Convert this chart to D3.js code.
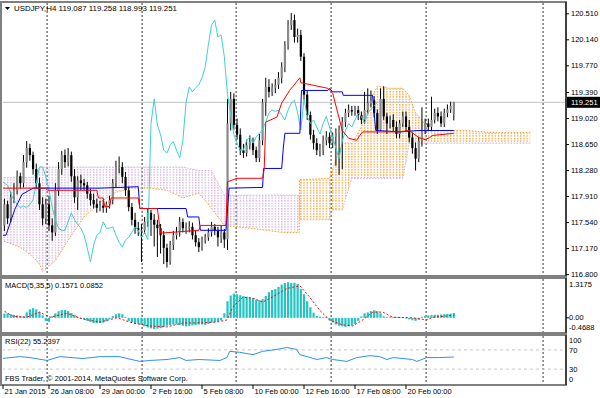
<!DOCTYPE html>
<html>
<head>
<meta charset="utf-8">
<script src="https://d3js.org/d3.v7.min.js"></script>
<style>
  body { margin: 0; background: #fff; }
  svg text { font-family: "Liberation Sans", Arial, sans-serif; font-size: 7.5px; fill: #000; }
</style>
</head>
<body>
<svg id="chart" width="600" height="398"></svg>
<script>
// ---- data (one entry per H4 bar) ----
const opens = [
  117.40,117.50,117.80,117.60,117.90,118.00,118.20,118.10,118.40,118.60,
  118.50,118.30,118.10,117.80,117.60,117.80,117.50,117.40,118.00,118.30,
  118.50,118.40,118.50,118.20,117.90,118.14,118.10,118.07,117.95,117.86,
  117.80,117.75,117.78,117.75,117.80,117.86,118.10,118.33,118.33,118.19,
  118.00,117.76,117.58,117.46,117.43,117.43,117.55,117.68,117.58,117.51,
  117.46,117.36,117.18,116.98,117.22,117.36,117.40,117.55,117.46,117.46,
  117.48,117.36,117.26,117.19,117.29,117.33,117.40,117.48,117.43,117.33,
  117.40,117.30,118.95,119.30,118.93,118.79,118.57,118.53,118.64,118.69,
  118.57,118.46,118.71,119.25,119.47,119.40,119.46,119.50,119.60,119.75,
  120.07,120.35,120.42,120.18,120.21,119.90,119.36,119.07,118.79,118.67,
  118.57,118.57,118.71,118.76,118.67,118.76,118.81,118.86,118.97,119.10,
  119.14,119.12,119.14,119.07,119.00,119.14,119.24,119.28,119.10,118.86,
  119.30,119.05,118.95,119.00,118.90,118.80,118.95,119.05,118.90,118.75,
  118.60,118.45,118.70,118.85,118.95,118.90,119.00,119.10,119.05,118.95,
  119.10,119.15,119.087];
const highs = [
  117.62,117.88,117.85,117.98,118.10,118.28,118.25,118.50,118.70,118.66,
  118.55,118.38,118.18,117.90,117.88,117.92,117.60,118.10,118.40,118.56,
  118.58,118.60,118.55,118.30,118.20,118.22,118.16,118.12,118.02,117.95,
  117.88,117.85,117.86,117.84,117.92,118.16,118.42,118.48,118.40,118.26,
  118.05,117.82,117.68,117.55,117.52,117.62,117.74,117.72,117.66,117.58,
  117.52,117.42,117.24,117.28,117.42,117.48,117.62,117.60,117.54,117.56,
  117.54,117.42,117.32,117.34,117.38,117.46,117.55,117.52,117.48,117.50,
  117.45,119.30,119.40,119.38,119.02,118.88,118.66,118.72,118.78,118.75,
  118.62,118.80,119.30,119.60,119.58,119.52,119.58,119.68,119.82,120.12,
  120.42,120.52,120.50,120.30,120.28,119.95,119.42,119.12,118.86,118.74,
  118.66,118.78,118.84,118.82,118.82,118.88,118.92,119.04,119.16,119.22,
  119.20,119.20,119.20,119.12,119.40,119.45,119.42,119.34,119.15,119.45,
  119.48,119.10,119.06,119.08,118.98,119.00,119.12,119.12,119.00,118.82,
  118.68,118.76,119.18,119.02,119.02,119.33,119.16,119.18,119.12,119.16,
  119.22,119.26,119.258];
const lows = [
  117.30,117.42,117.52,117.55,117.82,117.94,118.02,118.04,118.32,118.42,
  118.22,118.02,117.72,117.50,117.52,117.42,117.28,117.35,117.92,118.22,
  118.32,118.34,118.12,117.82,117.72,118.00,118.00,117.88,117.78,117.74,
  117.68,117.70,117.68,117.68,117.74,117.80,118.04,118.24,118.10,117.92,
  117.70,117.50,117.38,117.35,116.98,117.38,117.48,117.35,117.20,117.05,
  117.10,116.95,116.90,116.94,117.15,117.30,117.34,117.40,117.38,117.40,
  117.30,117.20,117.12,117.14,117.24,117.28,117.34,117.36,117.20,117.25,
  117.18,117.15,118.85,118.86,118.72,118.50,118.46,118.48,118.58,118.50,
  118.40,118.40,118.64,119.06,119.32,119.34,119.38,119.44,119.52,119.68,
  120.00,120.28,120.10,120.10,119.84,119.28,119.00,118.72,118.58,118.50,
  118.48,118.50,118.64,118.60,118.60,118.35,118.22,118.30,118.90,119.04,
  119.06,119.06,119.00,118.94,118.94,119.08,119.18,119.04,118.80,118.84,
  119.00,118.80,118.88,118.84,118.74,118.74,118.90,118.84,118.68,118.52,
  118.28,118.40,118.62,118.80,118.84,118.84,118.95,118.98,118.90,118.90,
  119.04,119.10,118.993];
const closes = [
  117.50,117.80,117.60,117.90,118.00,118.20,118.10,118.40,118.60,118.50,
  118.30,118.10,117.80,117.60,117.80,117.50,117.40,118.00,118.30,118.50,
  118.40,118.50,118.20,117.90,118.14,118.10,118.07,117.95,117.86,117.80,
  117.75,117.78,117.75,117.80,117.86,118.10,118.33,118.33,118.19,118.00,
  117.76,117.58,117.46,117.43,117.43,117.55,117.68,117.58,117.51,117.46,
  117.36,117.18,116.98,117.22,117.36,117.40,117.55,117.46,117.46,117.48,
  117.36,117.26,117.19,117.29,117.33,117.40,117.48,117.43,117.33,117.40,
  117.30,118.95,119.30,118.93,118.79,118.57,118.53,118.64,118.69,118.57,
  118.46,118.71,119.25,119.47,119.40,119.46,119.50,119.60,119.75,120.07,
  120.35,120.42,120.18,120.21,119.90,119.36,119.07,118.79,118.67,118.57,
  118.57,118.71,118.76,118.67,118.76,118.81,118.86,118.97,119.10,119.14,
  119.12,119.14,119.07,119.00,119.14,119.24,119.28,119.10,118.86,119.30,
  119.05,118.95,119.00,118.90,118.80,118.95,119.05,118.90,118.75,118.60,
  118.45,118.70,118.85,118.95,118.90,119.00,119.10,119.05,118.95,119.10,
  119.15,119.20,119.251];

// Ichimoku lines as [bar, value] vertices
const tenkan = [[0,118.03],[14,118.03],[14.5,118.0],[30,118.0],[30.5,117.89],[32,117.89],[32.5,117.77],[34,117.77],
  [34.5,117.89],[43,117.89],[43.5,117.74],[49,117.74],[50,117.39],[62,117.43],[62.5,117.50],[70.5,117.50],
  [71,118.12],[74,118.17],[82,118.17],[82.5,118.29],[83,118.97],[86.5,119.04],[88,119.24],[90.5,119.42],
  [93.7,119.60],[94,119.53],[102.5,119.45],[104,119.38],[107,118.85],[109,118.74],[111.5,118.71],[112.5,118.78],
  [113.4,118.83],[125,118.83],[128,118.85],[131,118.75],[133,118.72],[134.4,118.75],[135.4,118.78],[142,118.81]];
const kijun = [[0,117.36],[1.5,117.36],[4.3,117.73],[6.5,117.94],[10,118.03],[31,118.03],[43,118.05],[43.5,117.74],
  [58,117.74],[58.5,117.62],[62,117.62],[62.5,117.43],[70.5,117.43],[71.5,118.03],[82,118.04],[82.3,118.31],
  [88,118.31],[88.5,118.60],[89,118.81],[93.7,118.81],[94.2,119.42],[102.5,119.42],[103,119.45],[104,119.40],
  [107,119.40],[107.3,119.35],[116.5,119.35],[117.5,118.85],[125,118.83],[131,118.85],[142,118.85]];
const cloudBars = [0,6,10,12,13,17,21,26,31,36,41,47,52,57,62,66,70,80,88,93.5,
  93.6,103,104,107,110,113,116,118,122,126,128,130,132,134,145,155,166];
const spanA = [117.29,117.19,117.05,116.95,116.84,117.00,117.29,117.62,117.83,117.97,
  118.03,118.03,118.00,117.89,117.96,117.74,117.50,117.45,117.40,117.40,
  118.15,118.17,118.30,118.67,118.67,118.90,119.30,119.48,119.45,119.45,
  119.35,119.10,119.00,118.85,118.85,118.82,118.82];
const spanB = [118.18,118.18,118.18,118.33,118.33,118.33,118.33,118.33,118.33,118.33,
  118.33,118.33,118.33,118.33,118.28,118.28,117.93,117.93,117.93,117.93,
  117.58,117.58,117.72,117.72,118.17,118.17,118.17,118.17,118.17,118.17,
  118.67,118.67,118.67,118.67,118.67,118.67,118.67];
const chikouShift = 24;

// MACD(5,35,5)
const macdHist = [
  0.12,0.14,0.15,0.12,0.10,0.08,0.05,0.05,0.18,0.28,
  0.32,0.28,0.20,0.08,-0.10,-0.13,0.05,0.15,0.22,0.26,
  0.26,0.22,0.16,0.10,0.02,-0.03,-0.05,-0.10,-0.14,-0.18,
  -0.18,-0.17,-0.16,-0.12,-0.05,0.06,0.12,0.15,0.12,0.02,
  -0.10,-0.15,-0.18,-0.20,-0.24,-0.28,-0.32,-0.35,-0.37,-0.36,
  -0.34,-0.30,-0.26,-0.24,-0.22,-0.22,-0.24,-0.26,-0.28,-0.27,
  -0.25,-0.24,-0.22,-0.22,-0.23,-0.20,-0.16,-0.14,-0.12,-0.08,
  0.15,0.55,0.74,0.80,0.78,0.75,0.72,0.70,0.68,0.65,
  0.60,0.58,0.62,0.72,0.85,0.92,0.95,1.02,1.10,1.15,
  1.18,1.15,1.16,1.12,0.95,0.78,0.55,0.35,0.17,0.06,
  0.04,0.03,0.03,-0.08,-0.15,-0.22,-0.26,-0.28,-0.30,-0.28,
  -0.25,-0.20,-0.10,0.05,0.15,0.18,0.22,0.25,0.22,0.15,
  0.05,0.03,0.02,0.02,0.03,0.03,0.02,0.01,-0.05,-0.08,
  -0.10,-0.06,0.03,0.06,0.08,0.09,0.10,0.10,0.11,0.12,
  0.13,0.14,0.1571];
const macdSignal = [[0,0.28],[3.7,0.05],[8,0.02],[12,0.19],[15.3,0.02],[20.6,0.15],[25.6,-0.04],[31,-0.14],
  [36.3,0],[41.3,-0.17],[46.6,-0.27],[52,-0.30],[57,-0.17],[62.3,-0.17],[67.6,-0.14],[70.8,-0.07],
  [72.7,0.36],[75.8,0.68],[79,0.65],[82,0.52],[85,0.68],[89.6,0.97],[93.7,1.06],[96.8,0.68],
  [99.9,0.25],[103,-0.07],[107,-0.23],[110.3,-0.27],[113.4,-0.07],[116.6,0.19],[119.7,0.19],
  [122.8,0.02],[129,0],[133.5,-0.07],[135.4,0.02],[142,0.0852]];
const macdRange = [-0.4688, 1.3175];

// RSI(22)
const rsi = [[0,52],[6,56],[9,54],[14.4,48],[18.4,56],[25.6,52],[31,56],[37,56],[43.5,46],[46.6,48],
  [52,50],[56,54],[58,48],[62,50],[68.6,48],[70.8,54],[71.7,67],[74.8,65],[79,60],[82,67],[86.5,71],
  [89.6,75],[92.7,71],[93.7,60],[96,56],[99,50],[102,54],[104,50],[108.4,46],[111.5,54],[115.6,58],
  [118.7,56],[121,50],[123,54],[129,50],[130.4,46],[133.5,54],[137.6,54],[142,55.24]];
const rsiLevels = [70, 30];

// axis labels
const priceTicks = [120.510,120.140,119.770,119.390,119.020,118.650,118.280,117.910,117.540,117.170,116.800];
const lastPrice = 119.251;
const timeLabels = [[0,"21 Jan 2015"],[15,"26 Jan 08:00"],[31,"29 Jan 00:00"],[47,"2 Feb 16:00"],
  [63,"5 Feb 08:00"],[79,"10 Feb 00:00"],[95,"12 Feb 16:00"],[111,"17 Feb 08:00"],[127,"20 Feb 00:00"]];
const gridBars = [14.4, 44.2, 73.7, 103.5, 133.3, 170];

// ---- layout ----
const svg = d3.select("#chart");
const L = 2, R = 566;
const main = {top: 2, bottom: 276};
const macdP = {top: 278, bottom: 333};
const rsiP = {top: 335, bottom: 385};

const x = d3.scaleLinear().domain([0, 168]).range([1.2, 1.2 + 168 * 3.1875]);
const y = d3.scaleLinear().domain([116.8, 120.51]).range([274.6, 13.8]);
const yM = d3.scaleLinear().domain(macdRange).range([332, 278]);
const yR = d3.scaleLinear().domain([0, 100]).range([383.5, 335.5]);

const defs = svg.append("defs");
[["clipMain", main], ["clipMacd", macdP], ["clipRsi", rsiP]].forEach(([id, p]) => {
  defs.append("clipPath").attr("id", id).append("rect")
    .attr("x", L + 1).attr("y", p.top + 1).attr("width", R - L - 1).attr("height", p.bottom - p.top - 1);
});

// dotted hatch, one column per bar
function hatch(id, color) {
  const p = defs.append("pattern").attr("id", id).attr("patternUnits", "userSpaceOnUse")
    .attr("x", x(0) - 0.6).attr("y", 0).attr("width", x(1) - x(0)).attr("height", 2.6);
  p.append("rect").attr("width", 1.3).attr("height", 1.4).attr("fill", color);
}
hatch("hatchUp", "#f5a030");
hatch("hatchDn", "#d2b0d8");

// vertical grid
[main, macdP, rsiP].forEach(p => {
  svg.append("g").selectAll("line").data(gridBars).join("line")
    .attr("x1", d => x(d)).attr("x2", d => x(d))
    .attr("y1", p.top + 1).attr("y2", p.bottom)
    .attr("stroke", "#333").attr("stroke-dasharray", "2,2");
});

// ---- main panel ----
const gMain = svg.append("g").attr("clip-path", "url(#clipMain)");

const cloud = cloudBars.map((b, i) => ({b, a: spanA[i], s: spanB[i]}));
gMain.append("path").datum(cloud)
  .attr("fill", "url(#hatchDn)")
  .attr("d", d3.area().defined(d => d.s >= d.a).x(d => x(d.b)).y0(d => y(d.a)).y1(d => y(d.s)));
gMain.append("path").datum(cloud)
  .attr("fill", "url(#hatchUp)")
  .attr("d", d3.area().defined(d => d.a > d.s).x(d => x(d.b)).y0(d => y(d.s)).y1(d => y(d.a)));
gMain.append("path").datum(cloud).attr("fill", "none").attr("stroke", "#f5a030")
  .attr("stroke-dasharray", "1.5,1.5").attr("d", d3.line().x(d => x(d.b)).y(d => y(d.a)));
gMain.append("path").datum(cloud).attr("fill", "none").attr("stroke", "#d2b0d8")
  .attr("stroke-dasharray", "1.5,1.5").attr("d", d3.line().x(d => x(d.b)).y(d => y(d.s)));

// bid line
gMain.append("line").attr("x1", L).attr("x2", R).attr("y1", y(lastPrice)).attr("y2", y(lastPrice))
  .attr("stroke", "#c0c0c0");

// candles
const candles = closes.map((c, i) => ({i, o: opens[i], h: highs[i], l: lows[i], c}));
const cg = gMain.append("g").selectAll("g").data(candles).join("g");
cg.append("line")
  .attr("x1", d => x(d.i)).attr("x2", d => x(d.i))
  .attr("y1", d => y(d.h)).attr("y2", d => y(d.l))
  .attr("stroke", "#000").attr("stroke-width", 1);
cg.append("rect")
  .attr("x", d => x(d.i) - 1.1).attr("width", 2.2)
  .attr("y", d => y(Math.max(d.o, d.c)))
  .attr("height", d => Math.max(1, Math.abs(y(d.o) - y(d.c))))
  .attr("fill", d => d.c >= d.o ? "#8a8a8a" : "#000");

// chikou (close drawn back by the kijun period), tenkan, kijun
gMain.append("path").datum(closes.map((c, i) => [i - chikouShift, c]).filter(d => d[0] >= 0))
  .attr("fill", "none").attr("stroke", "#3fd0d0").attr("stroke-width", 1)
  .attr("d", d3.line().x(d => x(d[0])).y(d => y(d[1])));
gMain.append("path").datum(kijun).attr("fill", "none").attr("stroke", "#0000ff")
  .attr("d", d3.line().x(d => x(d[0])).y(d => y(d[1])));
gMain.append("path").datum(tenkan).attr("fill", "none").attr("stroke", "#ff0000")
  .attr("d", d3.line().x(d => x(d[0])).y(d => y(d[1])));

// ---- MACD panel ----
const gMacd = svg.append("g").attr("clip-path", "url(#clipMacd)");
gMacd.selectAll("rect").data(macdHist).join("rect")
  .attr("x", (d, i) => x(i) - 1.1).attr("width", 2.2)
  .attr("y", d => Math.min(yM(d), yM(0)))
  .attr("height", d => Math.max(0.8, Math.abs(yM(d) - yM(0))))
  .attr("fill", "#22c4c4");
gMacd.append("path").datum(macdSignal).attr("fill", "none").attr("stroke", "#ff0000")
  .attr("stroke-dasharray", "2,2")
  .attr("d", d3.line().x(d => x(d[0])).y(d => yM(d[1])));

// ---- RSI panel ----
const gRsi = svg.append("g").attr("clip-path", "url(#clipRsi)");
gRsi.selectAll("line").data(rsiLevels).join("line")
  .attr("x1", L).attr("x2", R).attr("y1", d => yR(d)).attr("y2", d => yR(d))
  .attr("stroke", "#c8c8c8").attr("stroke-dasharray", "3,3");
gRsi.append("path").datum(rsi).attr("fill", "none").attr("stroke", "#2f8ff0")
  .attr("d", d3.line().x(d => x(d[0])).y(d => yR(d[1])));

// ---- frames ----
[main, macdP, rsiP].forEach(p => {
  svg.append("rect").attr("x", L - 1).attr("y", p.top).attr("width", R - L + 1).attr("height", p.bottom - p.top)
    .attr("fill", "none").attr("stroke", "#808080").attr("stroke-width", 2);
  svg.append("line").attr("x1", R).attr("x2", R).attr("y1", p.top).attr("y2", p.bottom)
    .attr("stroke", "#000");
});

// ---- right axis labels ----
const ax = svg.append("g");
ax.selectAll("line.pt").data(priceTicks).join("line").attr("class", "pt")
  .attr("x1", R).attr("x2", R + 3).attr("y1", d => y(d)).attr("y2", d => y(d)).attr("stroke", "#000");
ax.selectAll("text.pt").data(priceTicks).join("text").attr("class", "pt")
  .attr("x", R + 5).attr("y", d => y(d)).attr("dy", "0.35em").text(d => d.toFixed(3));

ax.append("rect").attr("x", R + 1).attr("y", y(lastPrice) - 5.5).attr("width", 600 - R).attr("height", 11)
  .attr("fill", "#000");
ax.append("text").attr("x", R + 5).attr("y", y(lastPrice)).attr("dy", "0.35em")
  .style("fill", "#fff").text(lastPrice.toFixed(3));

ax.append("text").attr("x", R + 3).attr("y", yM(macdRange[1]) + 6).attr("dy", "0.35em").text(macdRange[1].toFixed(4));
ax.append("line").attr("x1", R).attr("x2", R + 3).attr("y1", yM(0)).attr("y2", yM(0)).attr("stroke", "#000");
ax.append("text").attr("x", R + 3).attr("y", yM(0)).attr("dy", "0.35em").text("0.00");
ax.append("text").attr("x", R + 3).attr("y", yM(macdRange[0]) - 5).attr("dy", "0.35em").text(macdRange[0].toFixed(4));

ax.append("text").attr("x", R + 3).attr("y", yR(100) + 4.5).attr("dy", "0.35em").text("100");
rsiLevels.forEach(v => {
  ax.append("text").attr("x", R + 3).attr("y", yR(v)).attr("dy", "0.35em").text(v);
});
ax.append("text").attr("x", R + 3).attr("y", yR(0) - 4.5).attr("dy", "0.35em").text("0");

// ---- time axis ----
const tg = svg.append("g").selectAll("g").data(timeLabels).join("g")
  .attr("transform", d => `translate(${Math.max(x(d[0]), 3)},0)`);
tg.append("line").attr("y1", rsiP.bottom).attr("y2", rsiP.bottom + 4).attr("stroke", "#000");
tg.append("text").attr("x", 1.5).attr("y", 394).text(d => d[1]);

// ---- titles ----
svg.append("path").attr("d", "M5,7 L10,7 L7.5,10 Z").attr("fill", "#000");
svg.append("text").attr("x", 14).attr("y", 11).style("font-size", "7.9px")
  .text("USDJPY,H4  119.087 119.258 118.993 119.251");
svg.append("text").attr("x", 5).attr("y", 288).text("MACD(5,35,5) 0.1571 0.0852");
svg.append("text").attr("x", 5).attr("y", 344).text("RSI(22) 55.2397");
svg.append("text").attr("x", 5).attr("y", 381).text("FBS Trader, © 2001-2014, MetaQuotes Software Corp.");
</script>
</body>
</html>
